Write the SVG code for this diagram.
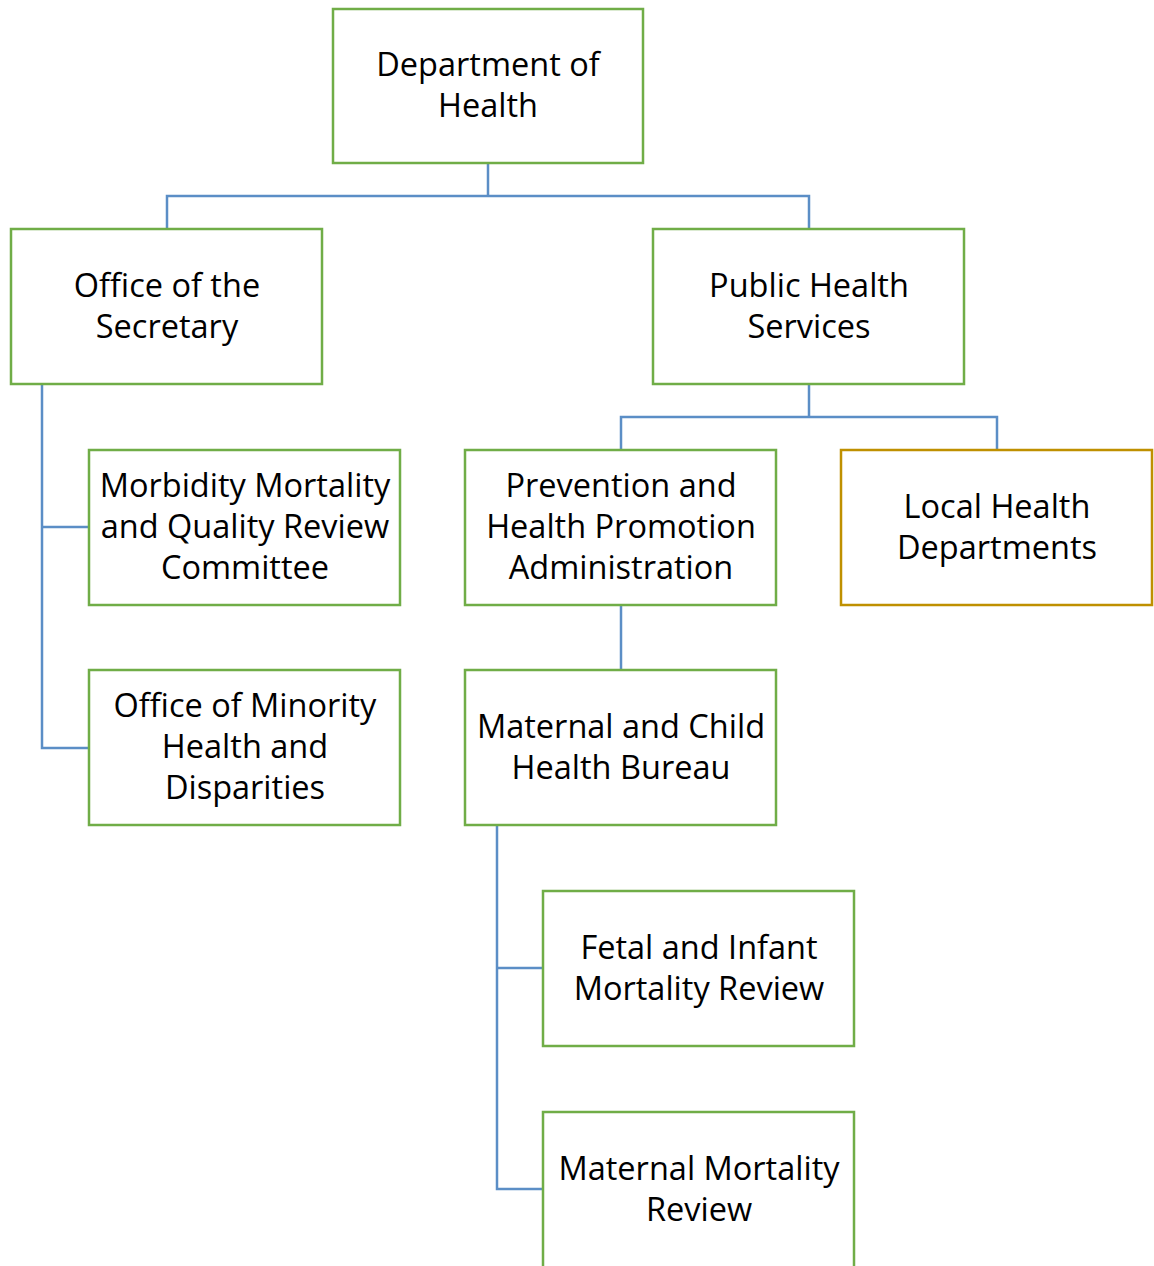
<svg xmlns="http://www.w3.org/2000/svg" width="1154" height="1266" viewBox="0 0 1154 1266">
<style>
.box{fill:#fff;stroke:#70AD47;stroke-width:2.5}
.gold{stroke:#BF9000}
.lbl{font-family:"Open Sans","Liberation Sans",sans-serif;font-size:32.5px;fill:#000;text-anchor:middle}
.con{fill:none;stroke:#5B8EC6;stroke-width:2.5}
</style>
<rect width="1154" height="1266" fill="#fff"/>
<g id="connectors">
<path class="con" d="M488 163V196M167 229V196H809V229"/>
<path class="con" d="M42 384V748H89M42 527H89"/>
<path class="con" d="M809 384V417M621 450V417H997V450"/>
<path class="con" d="M621 605V670"/>
<path class="con" d="M497 825V1189H543M497 968H543"/>
</g>
<g id="dept"><rect class="box" x="333" y="9" width="310" height="154"/>
<text class="lbl" x="488" y="76">Department of</text><text class="lbl" x="488" y="117">Health</text></g>
<g id="secretary"><rect class="box" x="11" y="229" width="311" height="155"/>
<text class="lbl" x="167" y="297">Office of the</text><text class="lbl" x="167" y="338">Secretary</text></g>
<g id="phs"><rect class="box" x="653" y="229" width="311" height="155"/>
<text class="lbl" x="809" y="297">Public Health</text><text class="lbl" x="809" y="338">Services</text></g>
<g id="mmqrc"><rect class="box" x="89" y="450" width="311" height="155"/>
<text class="lbl" x="245" y="497">Morbidity Mortality</text><text class="lbl" x="245" y="538">and Quality Review</text><text class="lbl" x="245" y="579">Committee</text></g>
<g id="phpa"><rect class="box" x="465" y="450" width="311" height="155"/>
<text class="lbl" x="621" y="497">Prevention and</text><text class="lbl" x="621" y="538">Health Promotion</text><text class="lbl" x="621" y="579">Administration</text></g>
<g id="lhd"><rect class="box gold" x="841" y="450" width="311" height="155"/>
<text class="lbl" x="997" y="518">Local Health</text><text class="lbl" x="997" y="559">Departments</text></g>
<g id="omhd"><rect class="box" x="89" y="670" width="311" height="155"/>
<text class="lbl" x="245" y="717">Office of Minority</text><text class="lbl" x="245" y="758">Health and</text><text class="lbl" x="245" y="799">Disparities</text></g>
<g id="mchb"><rect class="box" x="465" y="670" width="311" height="155"/>
<text class="lbl" x="621" y="738">Maternal and Child</text><text class="lbl" x="621" y="779">Health Bureau</text></g>
<g id="fimr"><rect class="box" x="543" y="891" width="311" height="155"/>
<text class="lbl" x="699" y="959">Fetal and Infant</text><text class="lbl" x="699" y="1000">Mortality Review</text></g>
<g id="mmr"><rect class="box" x="543" y="1112" width="311" height="160"/>
<text class="lbl" x="699" y="1180">Maternal Mortality</text><text class="lbl" x="699" y="1221">Review</text></g>
</svg>
